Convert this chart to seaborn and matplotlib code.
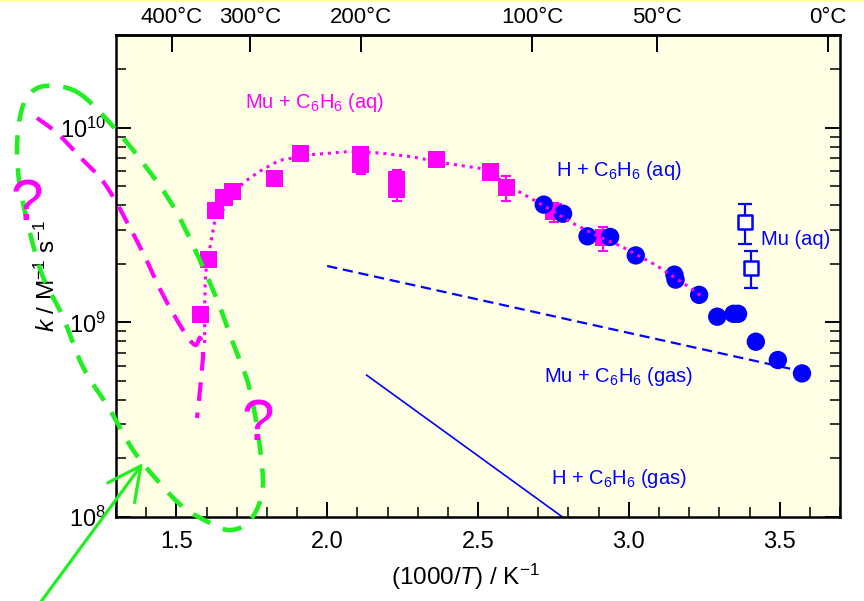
import numpy as np
import pandas as pd
import matplotlib
matplotlib.use("Agg")
import matplotlib.pyplot as plt
import seaborn as sns
import matplotlib.transforms as mtransforms
from matplotlib.path import Path
from matplotlib.patches import PathPatch, FancyArrowPatch, Rectangle
from matplotlib.ticker import LogLocator, MultipleLocator, NullFormatter, FixedLocator

# ---------------- data ----------------
# Mu + C6H6 (aq): filled magenta squares, with lower / upper error ends
mu_aq_x = [1.580, 1.605, 1.630, 1.658, 1.686, 1.824, 1.910, 2.112, 2.112,
           2.230, 2.230, 2.362, 2.542, 2.593, 2.751, 2.916]
mu_aq_k = [1.10e9, 2.10e9, 3.75e9, 4.40e9, 4.70e9, 5.50e9, 7.38e9, 7.30e9, 6.45e9,
           5.42e9, 4.81e9, 6.87e9, 5.93e9, 4.91e9, 3.72e9, 2.72e9]
mu_aq_lo = [1.10e9, 2.10e9, 3.75e9, 4.40e9, 4.70e9, 5.50e9, 7.38e9, 7.30e9, 5.80e9,
            5.42e9, 4.23e9, 6.87e9, 5.93e9, 4.19e9, 3.30e9, 2.32e9]
mu_aq_hi = [1.10e9, 2.10e9, 3.75e9, 4.40e9, 4.70e9, 5.50e9, 7.38e9, 7.30e9, 6.45e9,
            6.10e9, 4.81e9, 6.87e9, 5.93e9, 5.64e9, 4.11e9, 3.09e9]

# H + C6H6 (aq): filled blue circles
h_aq_x = [2.718, 2.782, 2.863, 2.938, 3.023, 3.151, 3.155, 3.233, 3.293,
          3.347, 3.362, 3.421, 3.494, 3.574]
h_aq_k = [4.03e9, 3.62e9, 2.77e9, 2.75e9, 2.21e9, 1.76e9, 1.66e9, 1.386e9, 1.07e9,
          1.107e9, 1.107e9, 7.96e8, 6.41e8, 5.47e8]

# Mu (aq): open blue squares with error bars
mu_w_x = [3.384, 3.406]
mu_w_k = [3.30e9, 1.90e9]
mu_w_lo = [2.53e9, 1.51e9]
mu_w_hi = [4.07e9, 2.32e9]

# dotted curve through Mu + C6H6 (aq)
fit_x = [1.594, 1.594, 1.597, 1.611, 1.627, 1.721, 1.776, 1.842, 1.952, 2.073,
         2.172, 2.282, 2.381, 2.519, 2.624, 2.701, 2.823, 2.899, 2.977, 3.087,
         3.197, 3.241]
fit_k = [7.83e8, 1.256e9, 1.79e9, 2.41e9, 3.30e9, 5.21e9, 5.98e9, 6.81e9, 7.29e9,
         7.55e9, 7.43e9, 7.10e9, 6.62e9, 6.15e9, 4.81e9, 4.12e9, 3.18e9, 2.77e9,
         2.45e9, 1.98e9, 1.53e9, 1.36e9]

# gas-phase lines
mu_gas_x = [2.0, 3.58]
mu_gas_k = [1.95e9, 5.58e8]
h_gas_x = [2.13, 2.78]
h_gas_k = [5.37e8, 1.0e8]

# top axis temperatures (deg C)
top_temps_C = [400, 300, 200, 100, 50, 0]

# ---------------- style ----------------
MAG = "#FF00FF"
BLUE = "#0000FF"
GREEN = "#22EE22"

sns.set_theme(style="ticks")
plt.rcParams["font.family"] = ["Liberation Sans", "DejaVu Sans"]
plt.rcParams["mathtext.fontset"] = "custom"
plt.rcParams["mathtext.rm"] = "Liberation Sans"
plt.rcParams["mathtext.it"] = "Liberation Sans:italic"
plt.rcParams["mathtext.bf"] = "Liberation Sans:bold"
for key in ["text.color", "axes.labelcolor", "xtick.color", "ytick.color",
            "xtick.labelcolor", "ytick.labelcolor", "axes.edgecolor"]:
    plt.rcParams[key] = "black"

W, H = 864, 601
fig = plt.figure(figsize=(W / 100, H / 100), dpi=100)
fig.patch.set_facecolor("white")
ax = fig.add_axes([116 / W, 1 - 517 / H, (840 - 116) / W, (517 - 35) / H])
ax.set_facecolor("#FFFFE6")
ax.set_yscale("log")
ax.set_xlim(1.3, 3.7)
ax.set_ylim(1e8, 3.0e10)

# ---------------- marks ----------------
mu_aq = pd.DataFrame({"x": mu_aq_x, "k": mu_aq_k, "lo": mu_aq_lo, "hi": mu_aq_hi})
err = mu_aq[(mu_aq.lo < mu_aq.k) | (mu_aq.hi > mu_aq.k)]
ax.errorbar(err.x, err.k, yerr=[err.k - err.lo, err.hi - err.k], fmt="none",
            ecolor=MAG, elinewidth=1.5, capsize=3.6, capthick=1.5, zorder=2)
sns.scatterplot(data=mu_aq, x="x", y="k", marker="s", s=150, color=MAG,
                edgecolor="none", linewidth=0, ax=ax, zorder=3)

h_aq = pd.DataFrame({"x": h_aq_x, "k": h_aq_k})
sns.scatterplot(data=h_aq, x="x", y="k", marker="o", s=175, color=BLUE,
                edgecolor="none", linewidth=0, ax=ax, zorder=4)

fit = pd.DataFrame({"x": fit_x, "k": fit_k})
ax.plot(fit.x, fit.k, color=MAG, lw=2.2, linestyle=(0, (1, 1.6)), zorder=5)

mu_w = pd.DataFrame({"x": mu_w_x, "k": mu_w_k, "lo": mu_w_lo, "hi": mu_w_hi})
ax.errorbar(mu_w.x, mu_w.k, yerr=[mu_w.k - mu_w.lo, mu_w.hi - mu_w.k], fmt="none",
            ecolor=BLUE, elinewidth=1.6, capsize=5, capthick=1.6, zorder=4)
sns.scatterplot(data=mu_w, x="x", y="k", marker="s", s=110, color="white",
                edgecolor=BLUE, linewidth=1.8, ax=ax, zorder=5)

sns.lineplot(x=mu_gas_x, y=mu_gas_k, color=BLUE, lw=1.6, ax=ax,
             linestyle=(0, (4.6, 2.6)), zorder=2)
sns.lineplot(x=h_gas_x, y=h_gas_k, color=BLUE, lw=1.2, ax=ax, zorder=2)

# ---------------- text labels ----------------
fs_lab = 14.5
ax.text(1.726, 1.272e10, "Mu + C$_6$H$_6$ (aq)", color=MAG, fontsize=fs_lab,
        ha="left", va="baseline")
ax.text(2.757, 5.64e9, "H + C$_6$H$_6$ (aq)", color=BLUE, fontsize=fs_lab,
        ha="left", va="baseline")
ax.text(3.438, 2.51e9, "Mu (aq)", color=BLUE, fontsize=fs_lab,
        ha="left", va="baseline")
ax.text(2.718, 4.95e8, "Mu + C$_6$H$_6$ (gas)", color=BLUE, fontsize=fs_lab,
        ha="left", va="baseline")
ax.text(2.741, 1.47e8, "H + C$_6$H$_6$ (gas)", color=BLUE, fontsize=fs_lab,
        ha="left", va="baseline")

# ---------------- axes / ticks ----------------
for s in ax.spines.values():
    s.set_visible(True)
    s.set_linewidth(1.8)
    s.set_color("black")
ax.xaxis.set_major_locator(MultipleLocator(0.5))
ax.xaxis.set_minor_locator(MultipleLocator(0.1))
ax.xaxis.set_major_formatter(matplotlib.ticker.FormatStrFormatter("%.1f"))
ax.yaxis.set_major_locator(LogLocator(base=10, numticks=10))
ax.yaxis.set_minor_locator(LogLocator(base=10, subs=np.arange(2, 10), numticks=10))
ax.yaxis.set_minor_formatter(NullFormatter())
ax.tick_params(which="both", direction="in", top=False, right=True, left=True,
               bottom=True, color="black", labelcolor="black")
ax.tick_params(which="major", length=11, width=1.4, labelsize=17, pad=7)
ax.tick_params(which="minor", length=7, width=1.1)
ax.tick_params(axis="x", which="major", pad=10)
ax.set_xlabel("(1000/$\\mathit{T}$) / K$^{-1}$", fontsize=17.5, color="black")
ax.set_ylabel("$\\mathit{k}$ / M$^{-1}$ s$^{-1}$", fontsize=17.5, color="black")
ax.xaxis.set_label_coords(0.483, -0.092)
ax.yaxis.set_label_coords(-0.078, 0.5)
ax.grid(False)

sec = ax.secondary_xaxis("top")
sec.set_xticks([1000.0 / (t + 273.15) for t in top_temps_C],
               [f"{t}°C" for t in top_temps_C])
sec.xaxis.set_minor_locator(FixedLocator([]))
sec.tick_params(which="major", direction="in", length=12, width=1.4,
                labelsize=16, pad=5, color="black", labelcolor="black")
sec.spines["top"].set_linewidth(1.8)
sec.spines["top"].set_color("black")

# ---------------- hand-drawn annotations (figure pixel coordinates) ----------------
pix = mtransforms.Affine2D().scale(1 / W, -1 / H).translate(0, 1) + fig.transFigure


def smooth_path(pts, closed=False):
    p = np.asarray(pts, dtype=float)
    if closed:
        p = np.vstack([p[-2], p, p[1]]) if np.allclose(p[0], p[-1]) else np.vstack([p[-1], p, p[0], p[1]])
    else:
        p = np.vstack([p[0], p, p[-1]])
    verts = [p[1]]
    codes = [Path.MOVETO]
    for i in range(1, len(p) - 2):
        p0, p1, p2, p3 = p[i - 1], p[i], p[i + 1], p[i + 2]
        c1 = p1 + (p2 - p0) / 6.0
        c2 = p2 - (p3 - p1) / 6.0
        verts += [c1, c2, p2]
        codes += [Path.CURVE4] * 3
    return Path(verts, codes)


green_loop = [(77, 92), (110, 123), (143, 163), (177, 213), (213, 290), (233, 343),
              (248, 383), (257, 427), (263, 480), (258, 507), (245, 525), (228, 530),
              (210, 523), (183, 507), (157, 480), (133, 450), (110, 410), (83, 367),
              (63, 317), (43, 277), (30, 233), (20, 187), (17, 150), (20, 117),
              (28, 96), (45, 86), (77, 92)]
fig.add_artist(PathPatch(smooth_path(green_loop, closed=True), fill=False,
                         edgecolor=GREEN, lw=3.3, linestyle=(0, (4.2, 3.0)),
                         transform=pix, clip_on=False, zorder=6))

mag_loop = [(37, 118), (57, 133), (80, 157), (107, 187), (140, 247), (162, 293),
            (183, 330), (195, 345), (200, 338), (203, 352), (201, 380), (197, 418)]
fig.add_artist(PathPatch(smooth_path(mag_loop), fill=False, edgecolor=MAG, lw=3.0,
                         linestyle=(0, (4.5, 2.8)), transform=pix, clip_on=False,
                         zorder=6))

fig.add_artist(FancyArrowPatch(posA=(40, 603), posB=(143, 463), transform=pix,
                               arrowstyle="->,head_length=1.2,head_width=0.6",
                               mutation_scale=20, lw=2.3, color=GREEN,
                               shrinkA=0, shrinkB=0, zorder=6))

fig.text(27, 220, "?", transform=pix, color=MAG, fontsize=42, ha="center",
         va="baseline", zorder=7)
fig.text(258, 440, "?", transform=pix, color=MAG, fontsize=42, ha="center",
         va="baseline", zorder=7)

# thin yellow strip along the very top of the image
fig.add_artist(Rectangle((0, 0), W, 2, transform=pix, facecolor="#FFFFA8",
                         edgecolor="none", zorder=0))

fig.savefig("out.png", dpi=100)
